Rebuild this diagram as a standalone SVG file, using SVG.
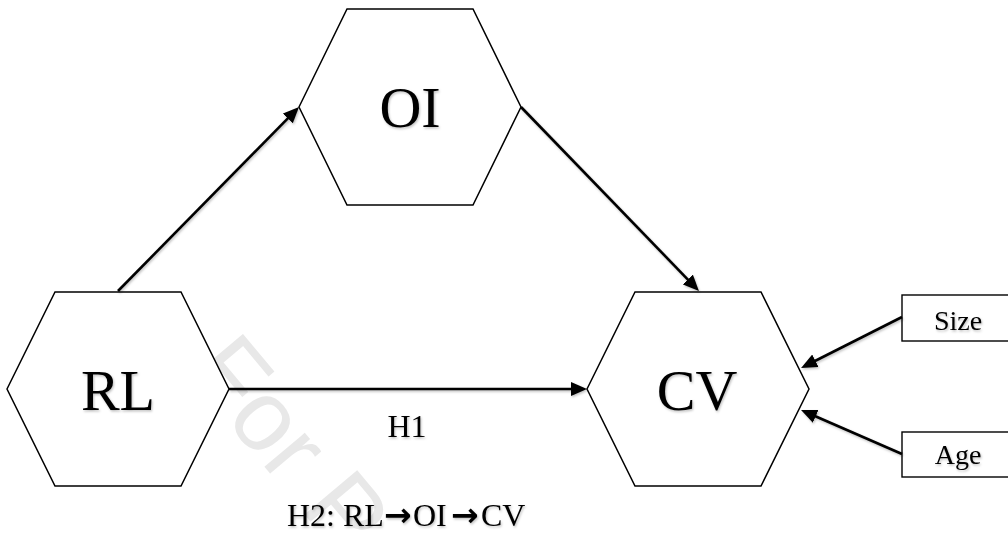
<svg xmlns="http://www.w3.org/2000/svg" width="1008" height="539" viewBox="0 0 1008 539">
  <style>
    .hex { fill: #ffffff; stroke: #000000; stroke-width: 1.5; stroke-linejoin: miter; }
    .box { fill: #ffffff; stroke: #000000; stroke-width: 1.4; }
    .big { font-family: "Liberation Serif", "Times New Roman", serif; font-size: 58px; fill: #000000; text-anchor: middle; }
    .small { font-family: "Liberation Serif", "Times New Roman", serif; font-size: 28px; fill: #000000; text-anchor: middle; }
    .hyp { font-family: "Liberation Serif", "Times New Roman", serif; font-size: 32px; fill: #000000; }
    .arrowglyph { font-family: "DejaVu Sans", sans-serif; font-weight: bold; font-size: 33px; }
    .link { fill: none; stroke: #000000; stroke-width: 2.6; }
    .mark { font-family: "Liberation Sans", Arial, sans-serif; font-size: 100px; fill: #e8e8e8; }
  </style>
  <defs>
    <marker id="head" viewBox="0 0 16 14" refX="6" refY="7" markerWidth="16" markerHeight="14" markerUnits="userSpaceOnUse" orient="auto">
      <path d="M0,0 L16,7 L0,14 z" fill="#000000"/>
    </marker>
    <filter id="soft" x="-10%" y="-10%" width="130%" height="130%">
      <feDropShadow dx="1" dy="1.5" stdDeviation="1" flood-color="#000000" flood-opacity="0.25"/>
    </filter>
  </defs>

  <rect width="1008" height="539" fill="#ffffff"/>

  <!-- background watermark -->
  <text class="mark" transform="translate(185,372) rotate(50)">For P</text>

  <g id="node-oi">
    <polygon class="hex" points="299,107 347,9 473,9 521,107 473,205 347,205"/>
    <text class="big" x="410" y="127" filter="url(#soft)">OI</text>
  </g>

  <g id="node-rl">
    <polygon class="hex" points="7,389 55,292 181,292 229,389 181,486 55,486"/>
    <text class="big" x="118" y="410" filter="url(#soft)">RL</text>
  </g>

  <g id="node-cv">
    <polygon class="hex" points="587,389 635,292 761,292 809,389 761,486 635,486"/>
    <text class="big" x="697" y="410" filter="url(#soft)">CV</text>
  </g>

  <g id="node-size">
    <rect class="box" x="902" y="295" width="130" height="46"/>
    <text class="small" x="958" y="330" filter="url(#soft)">Size</text>
  </g>

  <g id="node-age">
    <rect class="box" x="902" y="432" width="130" height="45"/>
    <text class="small" x="958" y="464" filter="url(#soft)">Age</text>
  </g>

  <g id="connectors" filter="url(#soft)">
    <line class="link" x1="118" y1="291" x2="292" y2="114.1" marker-end="url(#head)"/>
    <line class="link" x1="521" y1="107" x2="692" y2="283.8" marker-end="url(#head)"/>
    <line class="link" x1="229" y1="389" x2="577" y2="389" marker-end="url(#head)"/>
    <line class="link" x1="902" y1="317" x2="810" y2="363.5" marker-end="url(#head)"/>
    <line class="link" x1="902" y1="454" x2="810.2" y2="414" marker-end="url(#head)"/>
  </g>

  <g id="labels" filter="url(#soft)">
    <text class="hyp" x="387.5" y="437">H1</text>
    <text class="hyp" y="526"><tspan x="287">H2: RL</tspan><tspan class="arrowglyph" x="384">→</tspan><tspan x="413">OI</tspan><tspan class="arrowglyph" x="451">→</tspan><tspan x="481">CV</tspan></text>
  </g>
</svg>
